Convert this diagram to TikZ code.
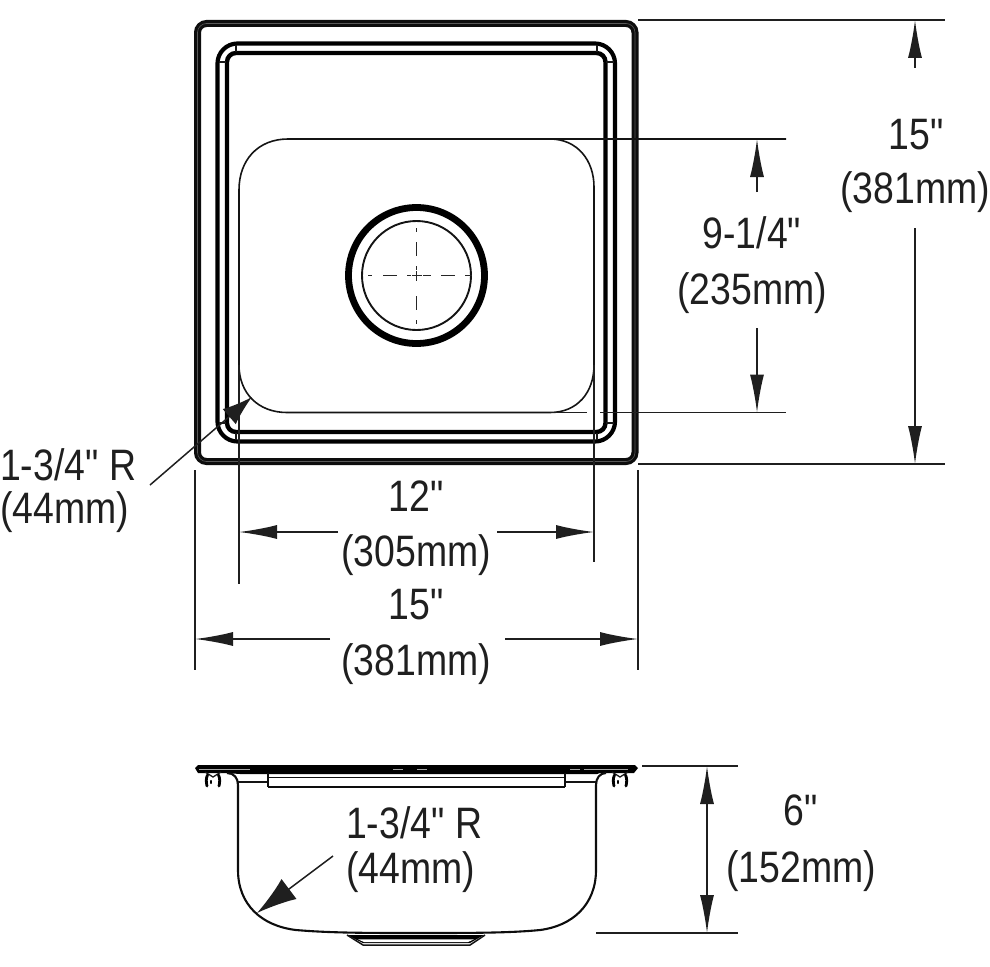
\documentclass[tikz,border=0pt]{standalone}
\usepackage{fontspec}
\newfontfamily\dimfont[FakeStretch=0.85]{Liberation Sans}
\usetikzlibrary{arrows.meta}
\tikzset{
  dimtxt/.style={anchor=base,inner sep=0pt,text=black!88,font=\dimfont\fontsize{44}{44}\selectfont},
  thin line/.style={line width=1.5pt,black!88},
  dimline/.style={thin line,{Latex[length=38pt,width=14pt]}-{Latex[length=38pt,width=14pt]}},
  dimend/.style={thin line,-{Latex[length=38pt,width=14pt]}},
  band/.style={line width=7pt,black!95,rounded corners=9pt},
  bandc/.style={line width=.6pt,black!65,rounded corners=9pt},
  rimo/.style={line width=4.2pt,black,rounded corners=20pt},
  rimi/.style={line width=4.4pt,black,rounded corners=9pt},
  miter/.style={line width=1.4pt,black!90},
  bowl/.style={line width=2.1pt,black!95},
  cdash/.style={line width=1.5pt,black!85},
}
\begin{document}
\begin{tikzpicture}[x=1pt,y=-1pt]
\useasboundingbox (0,0) rectangle (990,966);
% ---- plan view ----
\draw[band] (197.5,23.5) rectangle (635,461.5);
\draw[bandc] (197.5,23.5) rectangle (635,461.5);
\draw[rimo] (217.5,43.5) rectangle (615,441.5);
\draw[rimi] (227,53) rectangle (605.5,432);
\foreach \a/\b/\c/\d in {219/62/226/62, 236/45/236/52, 597/45/597/52, 606/62/614/62, 219/423/226/423, 236/433/236/440, 597/433/597/440, 606/423/614/423}
  \draw[miter] (\a,\b) -- (\c,\d);
% basin
\draw[line width=1.6pt,black!92] (287,412.5) .. controls (258,412.5) and (239,393) .. (239,365) -- (239,190)
  .. controls (239,160) and (258,139) .. (288,139) -- (786,139);
\draw[line width=1.6pt,black!92] (550,139) .. controls (577,139) and (594,160) .. (594,187) -- (594,365)
  .. controls (594,393) and (577,412.5) .. (550,412.5) -- (287,412.5);
\draw[thin line] (550,412.5) -- (587,412.5);
% drain
\draw[line width=6.8pt,black] (416.5,275.5) circle (68);
\draw[line width=1.9pt,black!92] (416.5,275.5) circle (54.5);
\foreach \a/\b/\c/\d in {416.7/228/416.7/232, 416.7/242/416.7/256, 416.7/266/416.7/270, 416.7/271/416.7/281, 416.7/296/416.7/310, 416.7/320/416.7/324,
   368/275.5/372/275.5, 383/275.5/397/275.5, 407/275.5/411/275.5, 412/275.5/422/275.5, 423/275.5/431/275.5, 441/275.5/455/275.5, 465/275.5/472/275.5}
  \draw[cdash] (\a,\b) -- (\c,\d);
% extension lines
\coordinate (topR) at (638,20);  \coordinate (topE) at (945,20);
\coordinate (botR) at (638,464); \coordinate (botE) at (945,464);
\coordinate (basT) at (757,139); \coordinate (basB) at (757,412.5);
\coordinate (extA) at (600,412.5); \coordinate (extB) at (786,412.5);
\draw[thin line] (topR) -- (topE);
\draw[thin line] (botR) -- (botE);
\draw[thin line] (extA) -- (extB);
\coordinate (x1a) at (195,470); \coordinate (x1b) at (195,670);
\coordinate (x4a) at (638,470); \coordinate (x4b) at (638,670);
\coordinate (x2a) at (239,365); \coordinate (x2b) at (239,584);
\coordinate (x3a) at (594,365); \coordinate (x3b) at (594,562);
\draw[thin line] (x1a) -- (x1b);
\draw[thin line] (x4a) -- (x4b);
\draw[thin line] (x2a) -- (x2b);
\draw[thin line] (x3a) -- (x3b);
% labels
\node[dimtxt] (a1) at (916,149) {15"};
\node[dimtxt] (a2) at (915,203) {(381mm)};
\node[dimtxt] (b1) at (752,248) {9-1/4"};
\node[dimtxt] (b2) at (752,304) {(235mm)};
\node[dimtxt] (c1) at (416,511) {12"};
\node[dimtxt] (c2) at (416,566) {(305mm)};
\node[dimtxt] (d1) at (416,619) {15"};
\node[dimtxt] (d2) at (416,675) {(381mm)};
\node[dimtxt,anchor=base west] (e1) at (0,480) {1-3/4" R};
\node[dimtxt,anchor=base west] (e2) at (0,523) {(44mm)};
\node[dimtxt,anchor=base west] (f1) at (346,838) {1-3/4" R};
\node[dimtxt,anchor=base west] (f2) at (346,883) {(44mm)};
\node[dimtxt] (g1) at (801,825) {6"};
\node[dimtxt] (g2) at (801,882) {(152mm)};
% dimension arrows
\coordinate (k1) at (915,20);  \coordinate (k2) at (915,68);
\coordinate (k3) at (915,228); \coordinate (k4) at (915,464);
\draw[dimend] (k2) -- (k1);
\draw[dimend] (k3) -- (k4);
\coordinate (m2) at (757,192); \coordinate (m3) at (757,328);
\draw[dimend] (m2) -- (basT);
\draw[dimend] (m3) -- (basB);
\coordinate (n1) at (239,532); \coordinate (n2) at (338,532);
\coordinate (n3) at (497,532); \coordinate (n4) at (594,532);
\draw[dimend] (n2) -- (n1);
\draw[dimend] (n3) -- (n4);
\coordinate (p1) at (195,639); \coordinate (p2) at (330,639);
\coordinate (p3) at (505,639); \coordinate (p4) at (638,639);
\draw[dimend] (p2) -- (p1);
\draw[dimend] (p3) -- (p4);
\coordinate (q1) at (150,485); \coordinate (q2) at (252,397);
\draw[thin line,-{Latex[length=30pt,width=20pt]}] (q1) -- (q2);
% ---- side view ----
\fill[black] (195,768) -- (198,765) -- (635,765) -- (638,768) -- (634,773) -- (600,773) -- (597,774) -- (240,774) -- (226,773) -- (198,773) -- cycle;
\foreach \a/\b in {199/250, 393/403, 417/427, 570/580, 584/628}
  \draw[line width=.9pt,black!35] (\a,769) -- (\b,769);
\draw[bowl] (227,773) .. controls (234,773) and (238,778) .. (238,785) -- (238,870)
  .. controls (238,905) and (262,926) .. (296,930) .. controls (330,933) and (370,933) .. (416,933)
  .. controls (470,933) and (510,933) .. (540,930) .. controls (572,926) and (596,905) .. (596,870)
  -- (596,785) .. controls (596,778) and (600,773) .. (606,773);
\draw[line width=1.6pt,black!92] (238,782) -- (268,782);
\draw[line width=1.6pt,black!92] (565,782) -- (596,782);
\draw[line width=1.8pt,black!95] (268,773) -- (268,787) (565,773) -- (565,787) (268,777.5) -- (565,777.5);
\draw[line width=2.8pt,black!95] (268,787) -- (565,787);
\fill[black] (347,935) -- (484,935) -- (470,943) -- (363,943) -- cycle;
\fill[white] (358,939.3) -- (474,939.3) -- (468,942) -- (364,942) -- cycle;
\draw[line width=1.5pt,black!92] (347,935) -- (363,945) -- (470,945) -- (485,935);
\foreach \c in {213,620}{
  \draw[line width=1.3pt,black!90] (\c-8,772) -- (\c,777) -- (\c+8,772);
  \draw[line width=2.8pt,line cap=round,black] (\c-5.5,775) .. controls (\c-7,778) and (\c-7,782) .. (\c-6,786);
  \draw[line width=2.8pt,line cap=round,black] (\c+5.5,775) .. controls (\c+7,778) and (\c+7,782) .. (\c+6,786);
  \draw[line width=2.2pt,line cap=round,black] (\c-2,781) -- (\c-2,783);
}
% side dims
\coordinate (s1) at (642,766); \coordinate (s2) at (738,766);
\coordinate (s3) at (596,933); \coordinate (s4) at (738,933);
\draw[thin line] (s1) -- (s2);
\draw[thin line] (s3) -- (s4);
\coordinate (t1) at (707,766); \coordinate (t2) at (707,933);
\draw[dimline] (t1) -- (t2);
\coordinate (u1) at (333,856); \coordinate (u2) at (257,913);
\draw[thin line,-{Latex[length=40pt,width=25pt]}] (u1) -- (u2);
\end{tikzpicture}
\end{document}
